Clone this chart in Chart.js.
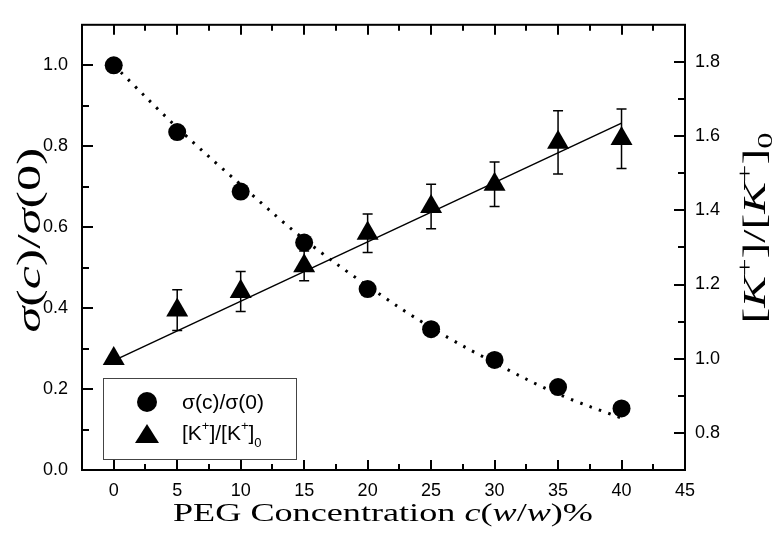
<!DOCTYPE html>
<html>
<head>
<meta charset="utf-8">
<script src="https://cdn.jsdelivr.net/npm/chart.js@4.4.0/dist/chart.umd.min.js"></script>
<style>
  html, body { margin: 0; padding: 0; background: #fff; }
  #wrap { width: 773px; height: 539px; position: relative; }
</style>
</head>
<body>
<div id="wrap"><canvas id="chartPeg"></canvas></div>
<script>
// values
const concentration = [0, 5, 10, 15, 20, 25, 30, 35, 40];
const sigmaRatio = [1.0, 0.835, 0.688, 0.562, 0.447, 0.348, 0.272, 0.205, 0.152];
const potassiumRatio = [1.0, 1.131, 1.181, 1.25, 1.338, 1.41, 1.47, 1.583, 1.593];
const potassiumErr = [0, 0.055, 0.054, 0.04, 0.052, 0.06, 0.06, 0.085, 0.08];
const sigmaFit = [1.0, 0.846, 0.705, 0.57, 0.455, 0.352, 0.265, 0.188, 0.128];
const linearFitX = [0, 40];
const linearFitY = [0.995, 1.635];

const xTicks = [0, 5, 10, 15, 20, 25, 30, 35, 40, 45];
const leftTicks = [0, 0.2, 0.4, 0.6, 0.8, 1.0];
const rightTicks = [0.8, 1.0, 1.2, 1.4, 1.6, 1.8];

const SANS = "'Liberation Sans', Arial, sans-serif";
const SERIF = "'Liberation Serif', 'Times New Roman', serif";

const pts = (xs, ys) => xs.map((x, i) => ({ x: x, y: ys[i] }));
const mids = arr => arr.slice(1).map((v, i) => (v + arr[i]) / 2);

// rich text helper: parts = [{t, it, k (size factor), dy (in em)}]
function drawRich(ctx, parts, size, cx, cy, rot, targetLen) {
  ctx.save();
  ctx.translate(cx, cy);
  ctx.rotate(rot);
  let total = 0;
  const widths = parts.map(p => {
    ctx.font = (p.it ? 'italic ' : '') + Math.round(size * (p.k || 1)) + 'px ' + SERIF;
    const w = ctx.measureText(p.t).width;
    total += w;
    return w;
  });
  const s = targetLen ? targetLen / total : 1;
  ctx.scale(s, 1);
  ctx.fillStyle = '#000';
  ctx.textBaseline = 'alphabetic';
  ctx.textAlign = 'left';
  let x = -total / 2;
  parts.forEach((p, i) => {
    ctx.font = (p.it ? 'italic ' : '') + Math.round(size * (p.k || 1)) + 'px ' + SERIF;
    ctx.fillText(p.t, x, size * 0.35 + (p.dy || 0) * size);
    x += widths[i];
  });
  ctx.restore();
}

const frameAndTicks = {
  id: 'frameAndTicks',
  beforeDatasetsDraw(chart) {
    const { ctx, chartArea: a, scales } = chart;
    const sx = scales.x, yl = scales.y, yr = scales.y1;
    ctx.save();
    ctx.strokeStyle = '#000';
    ctx.lineWidth = 2;
    ctx.strokeRect(a.left, a.top, a.right - a.left, a.bottom - a.top);
    ctx.beginPath();
    const xt = (v, len) => {
      const p = Math.round(sx.getPixelForValue(v));
      ctx.moveTo(p, a.bottom); ctx.lineTo(p, a.bottom - len);
      ctx.moveTo(p, a.top); ctx.lineTo(p, a.top + len);
    };
    xTicks.forEach(v => xt(v, 10));
    mids(xTicks).forEach(v => xt(v, 6));
    const lt = (v, len) => {
      const p = Math.round(yl.getPixelForValue(v));
      ctx.moveTo(a.left, p); ctx.lineTo(a.left + len, p);
    };
    leftTicks.forEach(v => lt(v, 11));
    mids(leftTicks).forEach(v => lt(v, 7));
    const rt = (v, len) => {
      const p = Math.round(yr.getPixelForValue(v));
      ctx.moveTo(a.right, p); ctx.lineTo(a.right - len, p);
    };
    rightTicks.forEach(v => rt(v, 11));
    mids(rightTicks).forEach(v => rt(v, 7));
    ctx.stroke();

    // error bars of the potassium ratio
    ctx.lineWidth = 1.5;
    ctx.beginPath();
    concentration.forEach((c, i) => {
      const e = potassiumErr[i];
      if (!e) return;
      const px = sx.getPixelForValue(c);
      const top = yr.getPixelForValue(potassiumRatio[i] + e);
      const bot = yr.getPixelForValue(potassiumRatio[i] - e);
      ctx.moveTo(px, top); ctx.lineTo(px, bot);
      ctx.moveTo(px - 5, top); ctx.lineTo(px + 5, top);
      ctx.moveTo(px - 5, bot); ctx.lineTo(px + 5, bot);
    });
    ctx.stroke();
    ctx.restore();
  },
  afterDraw(chart) {
    const { ctx } = chart;
    ctx.save();
    // legend
    ctx.strokeStyle = '#444';
    ctx.lineWidth = 1;
    ctx.strokeRect(103.5, 378.5, 193, 81);
    ctx.fillStyle = '#000';
    ctx.beginPath();
    ctx.arc(147, 402, 10, 0, Math.PI * 2);
    ctx.fill();
    ctx.beginPath();
    ctx.moveTo(147, 424); ctx.lineTo(159, 443); ctx.lineTo(135, 443);
    ctx.closePath();
    ctx.fill();
    ctx.textBaseline = 'middle';
    ctx.textAlign = 'left';
    ctx.font = '21px ' + SANS;
    ctx.fillText('σ(c)/σ(0)', 182, 403);
    let x = 182;
    const seg = (t, sz, dy) => {
      ctx.font = sz + 'px ' + SANS;
      ctx.fillText(t, x, 434 + dy);
      x += ctx.measureText(t).width;
    };
    seg('[K', 21, 0); seg('+', 13, -8); seg(']/[K', 21, 0); seg('+', 13, -8); seg(']', 21, 0); seg('0', 13, 9);

    // axis titles
    drawRich(ctx, [
      { t: 'PEG Concentration ' }, { t: 'c', it: true }, { t: '(' }, { t: 'w', it: true },
      { t: '/' }, { t: 'w', it: true }, { t: ')%' }
    ], 26, 383, 512, 0, 420);
    drawRich(ctx, [
      { t: 'σ', it: true }, { t: '(' }, { t: 'c', it: true }, { t: ')/' },
      { t: 'σ', it: true }, { t: '(0)' }
    ], 34, 28, 240, -Math.PI / 2, 185);
    drawRich(ctx, [
      { t: '[' }, { t: 'K', it: true }, { t: '+', k: 0.65, dy: -0.42 }, { t: ']/[' },
      { t: 'K', it: true }, { t: '+', k: 0.65, dy: -0.42 }, { t: ']' }, { t: '0', k: 0.7, dy: 0.2 }
    ], 32, 754, 228, -Math.PI / 2, 191);
    ctx.restore();
  }
};

const ctx = document.getElementById('chartPeg');

new Chart(ctx, {
  type: 'scatter',
  data: {
    datasets: [
      {
        label: '[K+]/[K+]0',
        data: pts(concentration, potassiumRatio),
        yAxisID: 'y1',
        pointStyle: 'triangle',
        pointRadius: 12.7,
        backgroundColor: '#000',
        borderColor: '#000',
        borderWidth: 0
      },
      {
        label: 'σ(c)/σ(0)',
        data: pts(concentration, sigmaRatio),
        yAxisID: 'y',
        pointStyle: 'circle',
        pointRadius: 9,
        backgroundColor: '#000',
        borderColor: '#000',
        borderWidth: 0
      },
      {
        label: 'linear fit',
        data: pts(linearFitX, linearFitY),
        yAxisID: 'y1',
        showLine: true,
        pointRadius: 0,
        borderColor: '#000',
        borderWidth: 1.5
      },
      {
        label: 'decay fit',
        data: pts(concentration, sigmaFit),
        yAxisID: 'y',
        showLine: true,
        tension: 0.4,
        pointRadius: 0,
        borderColor: '#000',
        borderWidth: 3,
        borderDash: [2.5, 7.5]
      }
    ]
  },
  options: {
    responsive: true,
    maintainAspectRatio: false,
    animation: false,
    layout: { padding: { top: 3, left: 0, right: 0, bottom: 0 } },
    plugins: {
      legend: { display: false },
      tooltip: { enabled: false }
    },
    scales: {
      x: {
        type: 'linear',
        position: 'bottom',
        min: -2.5,
        max: 45,
        afterBuildTicks: s => { s.ticks = xTicks.map(v => ({ value: v })); },
        afterFit: s => { s.height = 69; },
        ticks: { color: '#000', font: { family: SANS, size: 18 }, padding: 10, maxRotation: 0 },
        grid: { display: false, drawTicks: false },
        border: { display: false }
      },
      y: {
        position: 'left',
        min: 0,
        max: 1.1,
        afterBuildTicks: s => { s.ticks = leftTicks.map(v => ({ value: v })); },
        afterFit: s => { s.width = 82; },
        ticks: { color: '#000', font: { family: SANS, size: 18 }, padding: 14, callback: v => v.toFixed(1) },
        grid: { display: false, drawTicks: false },
        border: { display: false }
      },
      y1: {
        position: 'right',
        min: 0.7,
        max: 1.9,
        afterBuildTicks: s => { s.ticks = rightTicks.map(v => ({ value: v })); },
        afterFit: s => { s.width = 88; },
        ticks: { color: '#000', font: { family: SANS, size: 18 }, padding: 10, callback: v => v.toFixed(1) },
        grid: { display: false, drawTicks: false },
        border: { display: false }
      }
    }
  },
  plugins: [frameAndTicks]
});
</script>
</body>
</html>
